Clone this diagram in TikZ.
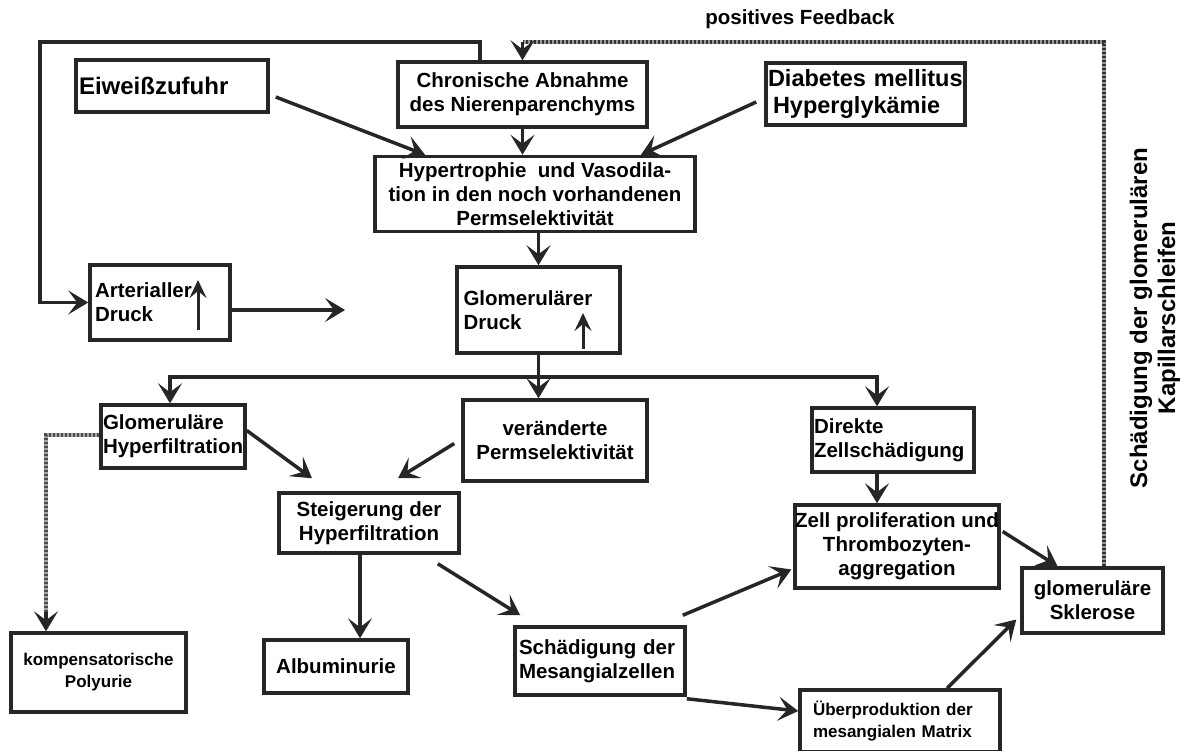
\documentclass[tikz,border=0pt]{standalone}
\usepackage{fontspec}
\setmainfont{Liberation Sans}
\usetikzlibrary{arrows.meta}

% font sizes (1pt = one unit of the drawing)
\newcommand{\fsmain}{\fontsize{20.5}{24}\selectfont\bfseries}
\newcommand{\fsbig}{\fontsize{24}{27}\selectfont\bfseries}
\newcommand{\fsdia}{\fontsize{23.5}{27}\selectfont\bfseries}
\newcommand{\fssmall}{\fontsize{17}{22}\selectfont\bfseries}
\newcommand{\fsrot}{\fontsize{24}{28}\selectfont\bfseries}

\begin{document}
\begin{tikzpicture}[x=1pt,y=-1pt,
  box/.style={draw=black!85, line width=3.5pt, inner sep=0pt, font=\fsmain, align=center},
  lbox/.style={box, align=left},
  arr/.style={draw=black!85, line width=3.5pt, -{Stealth[length=20pt,width=24pt,inset=9pt]}},
  uparr/.style={draw=black!85, line width=3pt, -{Stealth[length=18pt,width=17pt,inset=7pt]}},
  % dotted lines: a grey band with darker dots on top
  fbbase/.style={draw=black!40, line width=3.5pt},
  fbline/.style={draw=black!80, line width=3.5pt, dash pattern=on 2pt off 2pt},
  dashbase/.style={draw=black!35, line width=3.5pt},
  dashline/.style={draw=black!70, line width=3.5pt, dash pattern=on 2pt off 2pt},
  dashtip/.style={draw=black!85, line width=3.5pt, -{Stealth[length=20pt,width=24pt,inset=9pt]}},
]
\useasboundingbox (0,0) rectangle (1185,751);

% ---------- boxes ----------
\node[lbox, text width=186pt, inner xsep=3pt, minimum height=52pt, font=\fsbig] (eiw) at (172,86) {Eiweißzufuhr};
\node[box, minimum width=249pt, minimum height=65pt] (chr) at (522.5,94.5) {Chronische Abnahme\\des Nierenparenchyms};
\node[lbox, text width=195pt, inner xsep=2pt, minimum height=62pt, font=\fsdia] (dia) at (865.5,94) {Diabetes mellitus\\\hspace*{5pt}Hyperglykämie};
\node[box, minimum width=320pt, minimum height=75pt] (hyp) at (535,194) {Hypertrophie\ \ und Vasodila-\\tion in den noch vorhandenen\\Permselektivität};
\node[lbox, text width=130pt, inner xsep=5pt, minimum height=75pt] (art) at (160,302.5) {Arterialler\\Druck};
\node[lbox, text width=150pt, inner xsep=6.5pt, minimum height=86pt] (glo) at (538.5,310) {Glomerulärer\\Druck};
\node[lbox, text width=140pt, inner xsep=2pt, minimum height=63pt] (ghf) at (173,436.5) {Glomeruläre\\Hyperfiltration};
\node[box, minimum width=184pt, minimum height=81pt] (ver) at (555,440.5) {veränderte\\Permselektivität};
\node[lbox, text width=158pt, inner xsep=2pt, minimum height=64pt] (dir) at (893,440) {Direkte\\Zellschädigung};
\node[box, minimum width=180pt, minimum height=60pt] (ste) at (369,523) {Steigerung der\\Hyperfiltration};
\node[box, minimum width=175pt, minimum height=79pt, font=\fssmall] (pol) at (98.5,672.5) {kompensatorische\\Polyurie};
\node[box, minimum width=144pt, minimum height=53pt] (alb) at (336,666.5) {Albuminurie};
\node[lbox, text width=162pt, inner xsep=4pt, minimum height=68pt] (mes) at (600,661) {Schädigung der\\Mesangialzellen};
\node[box, minimum width=203pt, minimum height=83pt] (zel) at (897,546.5) {Zell proliferation und\\Thrombozyten-\\aggregation};
\node[lbox, text width=174pt, inner xsep=13pt, minimum height=62pt, font=\fssmall] (ueb) at (900,721) {Überproduktion der\\mesangialen Matrix};
\node[box, minimum width=141pt, minimum height=65pt] (skl) at (1092.5,600.5) {glomeruläre\\Sklerose};

% ---------- free labels ----------
\node[font=\fsmain] (fbl) at (800,19) {positives Feedback};
\node[font=\fsrot, rotate=90, align=center] (rot) at (1155,318) {Schädigung der glomerulären\\Kapillarschleifen};

% ---------- helper coordinates ----------
\coordinate (lp) at (40,42);
\coordinate (fbtop) at (522.5,42);
\coordinate (artend) at (345,310);
\coordinate (br) at (538.5,377);
\coordinate (polcorner) at (46,438);
\coordinate (polstop) at (46,612);

% ---------- loops ----------
\draw[arr] ([xshift=-42.5]chr.north) |- (lp) |- (art.west);
\draw[fbbase] ([xshift=11.5]skl.north) |- (fbtop);
\draw[fbline] ([xshift=11.5]skl.north) |- (fbtop);
\draw[arr] (fbtop) -- (chr.north);

% ---------- top part ----------
\draw[arr] ([shift={(6,11)}]eiw.east) -- ([xshift=-110]hyp.north);
\draw[arr] ([shift={(-8,8)}]dia.west) -- ([xshift=106]hyp.north);
\draw[arr] (chr.south) -- (chr.south |- hyp.north);
\draw[arr] (hyp.south -| glo.north) -- (glo.north);

% ---------- pressure ----------
\draw[arr] (art.east |- artend) -- (artend);
\draw[uparr] (198,330) -- (198,280);
\draw[uparr] (583,349) -- (583,313);

% ---------- branching ----------
\draw[arr] (glo.south) -- (ver.north -| glo.south);
\draw[arr] (br) -| ([xshift=-3]ghf.north);
\draw[arr] (br) -| ([xshift=-16]dir.north);

% ---------- lower part ----------
\draw[dashbase] ([yshift=1.5]ghf.west) -| (polstop);
\draw[dashline] ([yshift=1.5]ghf.west) -| (polstop);
\draw[dashtip] (polstop) -- ([xshift=-52.5]pol.north);
\draw[arr] ([yshift=6]ghf.east) -- ([shift={(-57,-13)}]ste.north);
\draw[arr] ([shift={(-7,3)}]ver.west) -- ([shift={(29,-13)}]ste.north);
\draw[arr] ([xshift=-9]ste.south) -- ([xshift=24]alb.north);
\draw[arr] ([shift={(-23,9)}]ste.south east) -- ([shift={(7,-10)}]mes.north west);
\draw[arr] ([shift={(-4,-10)}]mes.north east) -- ([shift={(-2,23)}]zel.west);
\draw[arr] ([shift={(0,2)}]mes.south east) -- ([yshift=10]ueb.west);
\draw[arr] ([xshift=-16]dir.south) -- ([xshift=-16]dir.south |- zel.north);
\draw[arr] ([shift={(2,-15)}]zel.east) -- ([xshift=-35]skl.north);
\draw[arr] ([xshift=47]ueb.north) -- ([shift={(-4,19)}]skl.west);
\end{tikzpicture}
\end{document}
